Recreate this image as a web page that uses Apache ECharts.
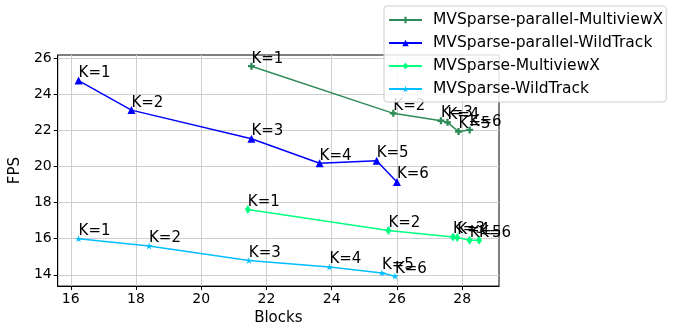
<!DOCTYPE html>
<html>
<head>
<meta charset="utf-8">
<script src="https://cdn.jsdelivr.net/npm/echarts@6/dist/echarts.min.js"></script>
<style>html,body{margin:0;padding:0;background:#fff}#c{width:679px;height:331px}</style>
</head>
<body>
<div id="c"></div>
<script>
const kLabels = ['K=1','K=2','K=3','K=4','K=5','K=6'];
const seriesNames = ['MVSparse-parallel-MultiviewX','MVSparse-parallel-WildTrack','MVSparse-MultiviewX','MVSparse-WildTrack'];
const pmxBlocks = [21.54, 25.89, 27.35, 27.55, 27.89, 28.23];
const pmxFps    = [25.58, 22.96, 22.55, 22.46, 21.95, 22.04];
const pwtBlocks = [16.24, 17.86, 21.54, 23.63, 25.38, 26.0];
const pwtFps    = [24.78, 23.14, 21.55, 20.19, 20.33, 19.15];
const mxBlocks  = [21.43, 25.74, 27.72, 27.85, 28.23, 28.52];
const mxFps     = [17.62, 16.46, 16.10, 16.07, 15.92, 15.92];
const wtBlocks  = [16.24, 18.40, 21.46, 23.93, 25.54, 25.94];
const wtFps     = [16.00, 15.60, 14.79, 14.43, 14.10, 13.92];
const xTicks = [16, 18, 20, 22, 24, 26, 28];
const yTicks = [14, 16, 18, 20, 22, 24, 26];

const colors = ['#2e8b57', '#0000ff', '#00ff7f', '#00bfff'];
const symbols = [
  'path://M-1,-3H1V-1H3V1H1V3H-1V1H-3V-1H-1Z',
  'triangle',
  'path://M0,-1L0.6,0L0,1L-0.6,0Z',
  'path://M0,-1L0.2245,-0.309L0.951,-0.309L0.363,0.118L0.588,0.809L0,0.382L-0.588,0.809L-0.363,0.118L-0.951,-0.309L-0.2245,-0.309Z'
];
const symSizes = [7, 8, [6, 9], 7];
const FONT = 'DejaVu Sans';

function mk(i, xs, ys) {
  return {
    name: seriesNames[i],
    type: 'line',
    data: xs.map((x, j) => ({ value: [x, ys[j]], label: { formatter: kLabels[j] } })),
    symbol: symbols[i],
    symbolSize: symSizes[i],
    showAllSymbol: true,
    animation: false,
    lineStyle: { color: colors[i], width: 1.5 },
    itemStyle: { color: colors[i] },
    label: {
      show: true, position: 'inside', align: 'left', verticalAlign: 'bottom',
      color: '#000', fontSize: 15, fontFamily: FONT, distance: 0,
      textBorderWidth: 0
    },
    labelLayout: { hideOverlap: false },
    emphasis: { disabled: true }
  };
}

const chart = echarts.init(document.getElementById('c'), null, { renderer: 'canvas' });
chart.setOption({
  animation: false,
  textStyle: { fontFamily: FONT },
  grid: { left: 57, top: 55, right: 180, bottom: 41, show: true, borderColor: '#000', borderWidth: 1, backgroundColor: 'transparent' },
  xAxis: {
    type: 'value', min: 15.6, max: 29.13,
    name: 'Blocks', nameLocation: 'middle', nameGap: 24,
    nameTextStyle: { fontSize: 15, color: '#000', fontFamily: FONT },
    axisLine: { show: true, lineStyle: { color: '#000', width: 1 } },
    axisTick: { show: true, length: 4, customValues: xTicks, lineStyle: { color: '#000' } },
    axisLabel: { customValues: xTicks, fontSize: 14, color: '#000', fontFamily: FONT, margin: 6 },
    splitLine: { show: true, lineStyle: { color: '#cfcfcf', width: 1 } }
  },
  yAxis: {
    type: 'value', min: 13.37, max: 26.2,
    name: 'FPS', nameLocation: 'middle', nameGap: 27,
    nameTextStyle: { fontSize: 15, color: '#000', fontFamily: FONT },
    axisLine: { show: true, lineStyle: { color: '#000', width: 1 } },
    axisTick: { show: true, length: 4, customValues: yTicks, lineStyle: { color: '#000' } },
    axisLabel: { customValues: yTicks, fontSize: 14, color: '#000', fontFamily: FONT, margin: 6 },
    splitLine: { show: true, lineStyle: { color: '#cfcfcf', width: 1 } }
  },
  legend: {
    orient: 'vertical', left: 384, top: 6,
    padding: [6, 3, 5, 4], itemGap: 7,
    itemWidth: 33, itemHeight: 8,
    backgroundColor: 'rgba(255,255,255,0.85)', borderColor: '#cccccc', borderWidth: 1, borderRadius: 3,
    textStyle: { fontSize: 15.5, color: '#000', fontFamily: FONT, padding: [0, 0, 0, 6], lineHeight: 15 },
    data: seriesNames
  },
  series: [
    mk(0, pmxBlocks, pmxFps),
    mk(1, pwtBlocks, pwtFps),
    mk(2, mxBlocks, mxFps),
    mk(3, wtBlocks, wtFps)
  ]
});
</script>
</body>
</html>
